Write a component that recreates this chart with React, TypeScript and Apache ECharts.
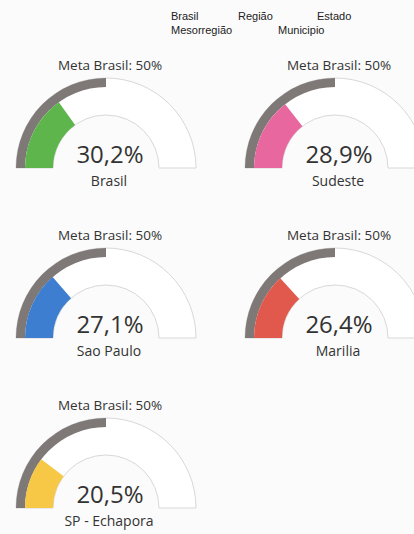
import React, { useEffect, useRef } from "react";
import * as echarts from "echarts";

const legendLabels = ["Brasil", "Região", "Estado", "Mesorregião", "Municipio"];
const regions = ["Brasil", "Sudeste", "Sao Paulo", "Marilia", "SP - Echapora"];
const values = [30.2, 28.9, 27.1, 26.4, 20.5];
const metaValue = 50;
const metaLabel = "Meta Brasil";

const colors = ["#5db54b", "#e9679f", "#3d7ed0", "#e0594c", "#f6c846"];
const centers: [number, number][] = [
  [106, 168],
  [335, 168],
  [106, 338],
  [335, 338],
  [106, 508],
];
const legendPos: [number, number][] = [
  [171, 16],
  [238, 16],
  [317, 16],
  [171, 30],
  [278, 30],
];

const FONT = '"Open Sans", sans-serif';
const fmt = (v: number) => v.toFixed(1).replace(".", ",") + "%";

export default function App() {
  const ref = useRef<HTMLDivElement>(null);
  useEffect(() => {
    if (!ref.current) return;
    const chart = echarts.init(ref.current, null, { renderer: "svg" });
    const series: any[] = [];
    const hidden = { show: false };
    values.forEach((v, i) => {
      const c = centers[i];
      series.push({
        type: "pie",
        center: c,
        radius: [53, 90],
        startAngle: 180,
        silent: true,
        label: hidden,
        labelLine: hidden,
        emphasis: { disabled: true },
        data: [
          { value: 1, itemStyle: { color: "#ffffff", borderColor: "#d8d8d8", borderWidth: 1 } },
          { value: 1, itemStyle: { color: "rgba(0,0,0,0)", borderWidth: 0 } },
        ],
      });
      const base = {
        type: "gauge",
        center: c,
        startAngle: 180,
        endAngle: 0,
        min: 0,
        max: 100,
        silent: true,
        axisLine: { show: false },
        axisTick: hidden,
        splitLine: hidden,
        axisLabel: hidden,
        pointer: hidden,
        anchor: hidden,
      };
      series.push({
        ...base,
        radius: 90,
        progress: { show: true, width: 9, itemStyle: { color: "#7e7877" } },
        title: { offsetCenter: [4, -103], fontSize: 13.5, color: "#333", fontFamily: FONT },
        detail: hidden,
        data: [{ value: metaValue, name: `${metaLabel}: ${metaValue}%` }],
      });
      series.push({
        ...base,
        radius: 81,
        progress: { show: true, width: 28, itemStyle: { color: colors[i] } },
        title: { offsetCenter: [3, 12], fontSize: 14, color: "#333", fontFamily: FONT },
        detail: {
          offsetCenter: [4, -15],
          fontSize: 24,
          color: "#333",
          fontFamily: FONT,
          fontWeight: "normal",
          formatter: (val: number) => fmt(val),
        },
        data: [{ value: v, name: regions[i] }],
      });
    });
    chart.setOption({
      animation: false,
      backgroundColor: "#fbfbfb",
      graphic: legendLabels.map((t, i) => ({
        type: "text",
        x: legendPos[i][0],
        y: legendPos[i][1],
        style: {
          text: t,
          fill: "#222",
          font: '11px "Liberation Sans", Arial, sans-serif',
          textVerticalAlign: "middle",
        },
      })),
      series,
    });
    return () => chart.dispose();
  }, []);
  return (
    <div
      ref={ref}
      style={{ position: "fixed", left: 0, top: 0, width: 414, height: 534 }}
    />
  );
}
